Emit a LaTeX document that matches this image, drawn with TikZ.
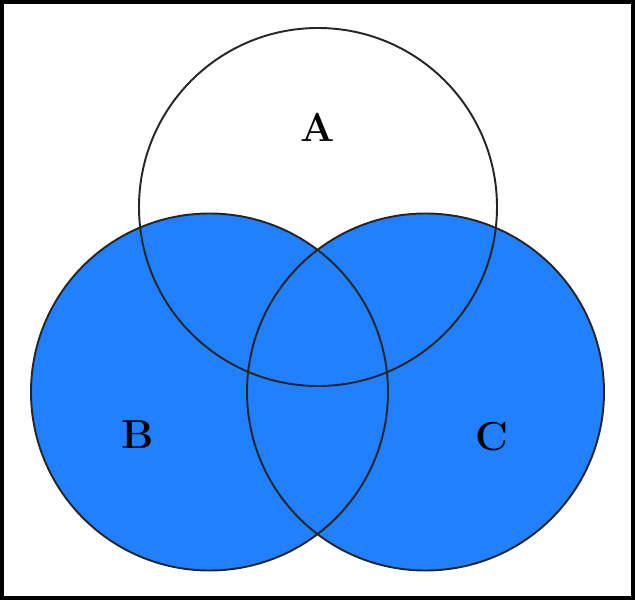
\documentclass[tikz,border=0pt]{standalone}
\usepackage{tikz}
\definecolor{setblue}{RGB}{33,128,255}
\tikzset{
  setline/.style={line width=1.1pt, black!85},
  setlabel/.style={font=\fontsize{23}{27}\selectfont\bfseries}
}
\begin{document}
\begin{tikzpicture}
  \useasboundingbox (0,0) rectangle (12.7,12);
  % frame
  \draw[line width=0.08cm] (0.04,0.04) rectangle (12.66,11.96);

  % B and C filled
  \fill[setblue] (4.19,4.16) circle (3.57cm);
  \fill[setblue] (8.51,4.16) circle (3.57cm);

  % outlines
  \draw[setline] (6.36,7.86) circle (3.58cm);
  \draw[setline] (4.19,4.16) circle (3.57cm);
  \draw[setline] (8.51,4.16) circle (3.57cm);

  \node[setlabel] (labelA) at (6.36,9.46) {A};
  \node[setlabel] (labelB) at (2.76,3.30) {B};
  \node[setlabel] (labelC) at (9.84,3.26) {C};
\end{tikzpicture}
\end{document}
